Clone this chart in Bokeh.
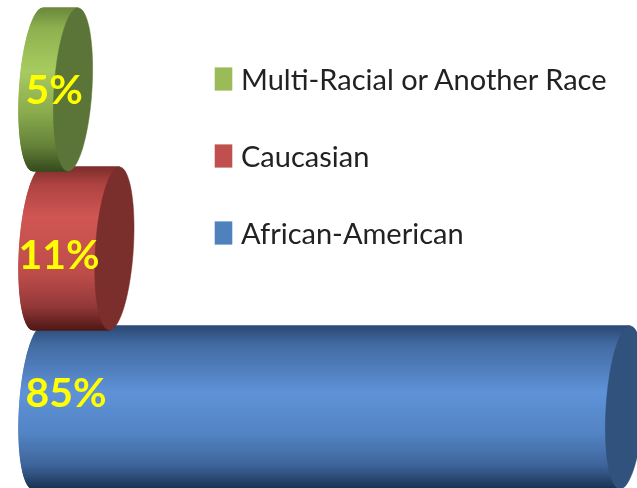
import numpy as np
from bokeh.embed import file_html
from bokeh.resources import INLINE
from bokeh.plotting import figure
from bokeh.models import ColumnDataSource, Range1d, Legend, LegendItem
from bokeh.core.properties import value

# ---- data, drawn bottom to top
categories = ["African-American", "Caucasian", "Multi-Racial or Another Race"]
percent = [85, 11, 5]
labels = ["85%", "11%", "5%"]

# ---- styles
legend_colors = ["#4f81bd", "#c0504d", "#9bbb59"]
cap_colors = ["#31527c", "#7a2f2d", "#5b7437"]
shade_stops = [
    [(0, "#2c4a75"), (.1, "#41699f"), (.4, "#5f92d8"), (.65, "#5384c4"), (.85, "#3f659b"), (1, "#17304f")],
    [(0, "#7e2f2c"), (.1, "#ad4341"), (.3, "#d05654"), (.65, "#bd4d4a"), (.85, "#94393a"), (1, "#4d1715")],
    [(0, "#6c8a3d"), (.12, "#8fb04f"), (.38, "#a8cb60"), (.65, "#88a94c"), (.85, "#637f38"), (1, "#344a1c")],
]
label_dx = [-13, -20, -13]
label_dy = [-16, 5, -1]

HALF_H = 0.513      # half bar thickness in index units
CAP_A = 2.75        # half width of the end ellipse in value units
CAP_S = 0.72        # skew of the end ellipse in value units
N = 160


def hex2rgb(c):
    return np.array([int(c[i:i + 2], 16) for i in (1, 3, 5)], dtype=float)


def shade(stops, f):
    pos = [s[0] for s in stops]
    rgb = np.array([hex2rgb(s[1]) for s in stops])
    out = [int(round(np.interp(f, pos, rgb[:, k]))) for k in range(3)]
    return "#%02x%02x%02x" % tuple(out)


x_to_px = 6.9
p = figure(width=637, height=488, output_backend="svg", toolbar_location=None,
           x_range=Range1d(-38 / x_to_px, 599 / x_to_px),
           y_range=Range1d(-81 / 159, 407 / 159),
           min_border=0, outline_line_color=None, background_fill_color="white",
           border_fill_color="white")
p.axis.visible = False
p.grid.visible = False
p.styles = {"filter": "blur(0.6px)"}

legend_refs = []
for i, v in enumerate(percent):
    edges = np.linspace(-1, 1, N + 1)
    xs, ys, cols = [], [], []
    for a, b in zip(edges[:-1], edges[1:]):
        l0 = -CAP_A * np.sqrt(1 - a * a) + CAP_S * a
        l1 = -CAP_A * np.sqrt(1 - b * b) + CAP_S * b
        xs.append([l0, v + CAP_S * a, v + CAP_S * b, l1])
        ys.append([i + a * HALF_H, i + a * HALF_H, i + b * HALF_H, i + b * HALF_H])
        cols.append(shade(shade_stops[i], (1 - (a + b) / 2) / 2))
    p.patches(xs, ys, fill_color=cols, line_color=cols, line_width=1.3)
    t = np.linspace(0, 2 * np.pi, 90)
    p.patch(v + CAP_A * np.cos(t) + CAP_S * np.sin(t), i + HALF_H * np.sin(t),
            fill_color=cap_colors[i], line_color=cap_colors[i], line_width=0.5)
    legend_refs.append(p.hbar(y=[i], left=[0], right=[0], height=0,
                              fill_color=legend_colors[i], line_color=None))

src = ColumnDataSource(dict(x=[0] * 3, y=list(range(3)), t=labels, dx=label_dx, dy=label_dy))
p.text("x", "y", text="t", source=src, x_offset="dx", y_offset="dy", text_color="#ffff00",
       text_font=value("Lato"), text_font_size="41px", text_font_style="bold",
       text_baseline="middle", text_align="left")

legend = Legend(
    items=[LegendItem(label=categories[i], renderers=[legend_refs[i]]) for i in (2, 1, 0)],
    location=(212, 238), orientation="vertical", glyph_width=22, glyph_height=29,
    label_standoff=7, spacing=42, padding=0, margin=0, background_fill_alpha=0,
    border_line_color=None, label_text_font="Lato",
    label_text_font_size="29px", label_text_color="#222222", label_height=23,
)
p.add_layout(legend)

open("out.html", "w").write(file_html(p, INLINE))
